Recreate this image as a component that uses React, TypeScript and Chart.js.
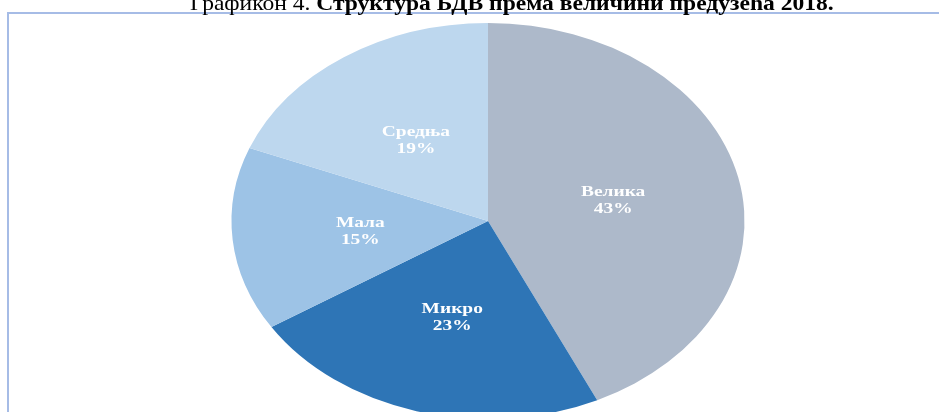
import React, { useEffect, useRef } from "react";
import { Chart, registerables } from "chart.js";

Chart.register(...registerables);

const categories = ["Велика", "Микро", "Мала", "Средња"];
const shares = [43, 23, 15, 19];
const percentLabels = ["43%", "23%", "15%", "19%"];
const sliceColors = ["#adb9ca", "#2e75b6", "#9dc3e6", "#bdd7ee"];
const titlePrefix = "Графикон 4. ";
const titleBold = "Структура БДВ према величини предузећа 2018.";

const SX = 1.2955;
const TITLE_SX = 1.121;
const RADIUS = 198;
const CX = 488 / SX;
const CANVAS_W = 939;
const CANVAS_H = 440;

export default function App() {
  const ref = useRef<HTMLCanvasElement | null>(null);

  useEffect(() => {
    const canvas = ref.current;
    if (!canvas) return;

    const stretch = {
      id: "stretch",
      beforeDraw(chart: any) {
        const ctx = chart.ctx;
        const dpr = chart.currentDevicePixelRatio || 1;
        ctx.save();
        ctx.setTransform(SX * dpr, 0, 0, dpr, 0, 0);
      },
      afterDatasetsDraw(chart: any) {
        const ctx = chart.ctx;
        const meta = chart.getDatasetMeta(0);
        ctx.save();
        ctx.fillStyle = "#ffffff";
        ctx.font = "bold 15px 'Liberation Serif', 'Times New Roman', serif";
        ctx.textAlign = "center";
        ctx.textBaseline = "middle";
        meta.data.forEach((arc: any, i: number) => {
          const mid = (arc.startAngle + arc.endAngle) / 2;
          const r = arc.outerRadius * 0.5;
          const x = arc.x + Math.cos(mid) * r;
          const y = arc.y + Math.sin(mid) * r;
          ctx.fillText(categories[i], x, y - 7);
          ctx.fillText(percentLabels[i], x, y + 10);
        });
        ctx.restore();
      },
      afterDraw(chart: any) {
        chart.ctx.restore();
      },
    };

    const chart = new Chart(canvas, {
      type: "pie",
      data: {
        labels: categories,
        datasets: [
          {
            data: shares,
            backgroundColor: sliceColors,
            borderWidth: 0,
          },
        ],
      },
      options: {
        responsive: false,
        animation: false,
        layout: {
          padding: {
            left: CX - RADIUS,
            right: CANVAS_W - (CX + RADIUS),
            top: 23,
            bottom: CANVAS_H - 23 - 2 * RADIUS,
          },
        },
        plugins: {
          legend: { display: false },
          tooltip: { enabled: false },
          title: { display: false },
        },
      },
      plugins: [stretch],
    });

    return () => chart.destroy();
  }, []);

  return (
    <div
      style={{
        position: "fixed",
        left: 0,
        top: 0,
        width: 939,
        height: 412,
        overflow: "hidden",
        background: "#ffffff",
      }}
    >
      <div
        style={{
          position: "absolute",
          left: 7,
          top: 12,
          width: 960,
          height: 500,
          borderTop: "2px solid #a6bce6",
          borderLeft: "2px solid #a6bce6",
          boxSizing: "border-box",
        }}
      />
      <canvas
        ref={ref}
        width={CANVAS_W}
        height={CANVAS_H}
        style={{ position: "absolute", left: 0, top: 0, width: CANVAS_W, height: CANVAS_H }}
      />
      <div
        style={{
          position: "absolute",
          left: 190,
          top: -7,
          transform: `scaleX(${TITLE_SX})`,
          transformOrigin: "0 0",
          whiteSpace: "nowrap",
          fontFamily: "'Liberation Serif', 'Times New Roman', serif",
          fontSize: 21,
          lineHeight: "21px",
          color: "#000000",
        }}
      >
        <span>{titlePrefix}</span>
        <b>{titleBold}</b>
      </div>
    </div>
  );
}
